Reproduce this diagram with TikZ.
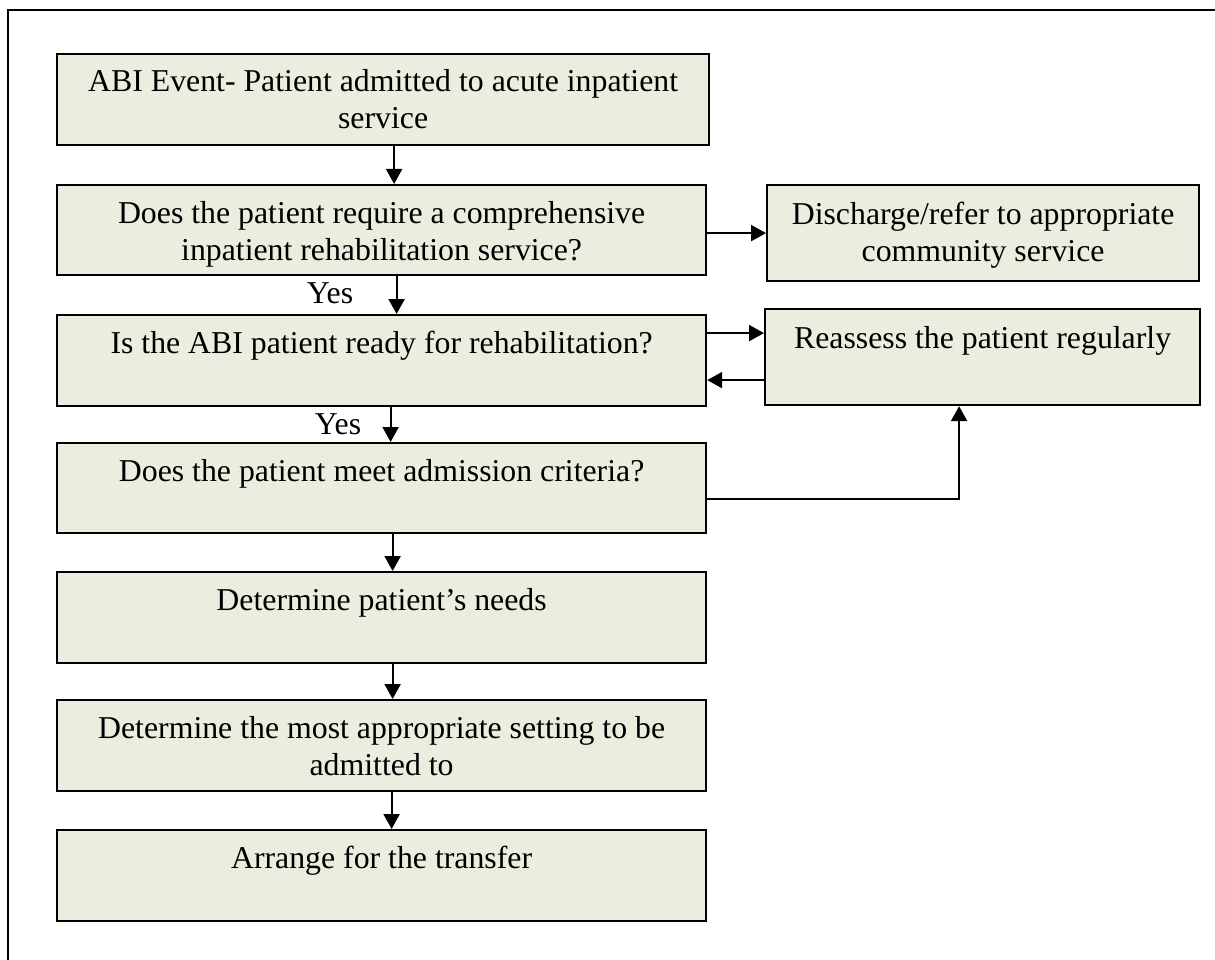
\documentclass[tikz,border=0pt]{standalone}
\usepackage{fontspec}
\setmainfont{Liberation Serif}
\usetikzlibrary{arrows.meta,calc}
\definecolor{boxfill}{RGB}{234,238,222}
\begin{document}
\begin{tikzpicture}[x=1pt,y=-1pt,
  box/.style={draw=black,line width=2.2pt,fill=boxfill,inner sep=0pt,anchor=north west},
  txt/.style={anchor=base,inner sep=0pt,font=\fontsize{31.8}{37}\selectfont},
  conn/.style={line width=2.2pt,-{Triangle[length=15pt,width=16pt]}},
  frame/.style={line width=2.2pt}]
\useasboundingbox (0,0) rectangle (1215,960);
% page frame (top and left edges)
\coordinate (fbl) at (8,960);
\coordinate (ftl) at (8,10);
\coordinate (ftr) at (1215,10);
\draw[frame] (fbl) -- (ftl) -- (ftr);

% main column
\node[box,minimum width=652pt,minimum height=91pt] (b1) at (56,53) {};
\node[box,minimum width=649pt,minimum height=90pt] (b2) at (56,184) {};
\node[box,minimum width=649pt,minimum height=91pt] (b3) at (56,314) {};
\node[box,minimum width=649pt,minimum height=90pt] (b4) at (56,442) {};
\node[box,minimum width=649pt,minimum height=91pt] (b5) at (56,571) {};
\node[box,minimum width=649pt,minimum height=91pt] (b6) at (56,699) {};
\node[box,minimum width=649pt,minimum height=91pt] (b7) at (56,829) {};
% side boxes
\node[box,minimum width=432pt,minimum height=96pt] (dis) at (766,184) {};
\node[box,minimum width=435pt,minimum height=96pt] (rea) at (764,308) {};

% box texts
\node[txt] (t1) at ($(b1.north)+(0,39)$) {\parbox[t]{640pt}{\centering ABI Event- Patient admitted to acute inpatient\\ service}};
\node[txt] (t2) at ($(b2.north)+(0,39)$) {\parbox[t]{640pt}{\centering Does the patient require a comprehensive\\ inpatient rehabilitation service?}};
\node[txt] (t3) at ($(b3.north)+(0,39)$) {Is the ABI patient ready for rehabilitation?};
\node[txt] (t4) at ($(b4.north)+(0,39)$) {Does the patient meet admission criteria?};
\node[txt] (t5) at ($(b5.north)+(0,39)$) {Determine patient’s needs};
\node[txt] (t6) at ($(b6.north)+(0,39)$) {\parbox[t]{640pt}{\centering Determine the most appropriate setting to be\\ admitted to}};
\node[txt] (t7) at ($(b7.north)+(0,39)$) {Arrange for the transfer};
\node[txt] (td) at ($(dis.north)+(0,40)$) {\parbox[t]{430pt}{\centering Discharge/refer to appropriate\\ community service}};
\node[txt] (tr) at ($(rea.north)+(0,40)$) {Reassess the patient regularly};

% yes labels
\node[txt] (y1) at (330,303) {Yes};
\node[txt] (y2) at (338,434) {Yes};

% connectors
\draw[conn] ([xshift=11pt]b1.south) -- ([xshift=11pt]b1.south |- b2.north);
\draw[conn] ([xshift=15pt]b2.south) -- ([xshift=15pt]b2.south |- b3.north);
\draw[conn] ([xshift=9pt]b3.south) -- ([xshift=9pt]b3.south |- b4.north);
\draw[conn] ([xshift=11pt]b4.south) -- ([xshift=11pt]b4.south |- b5.north);
\draw[conn] ([xshift=11pt]b5.south) -- ([xshift=11pt]b5.south |- b6.north);
\draw[conn] ([xshift=10pt]b6.south) -- ([xshift=10pt]b6.south |- b7.north);
\draw[conn] (dis.west -| b2.east) -- (dis.west);
\draw[conn] ([yshift=24pt]rea.west -| b3.east) -- ([yshift=24pt]rea.west);
\draw[conn] ([yshift=-23pt]rea.west) -- ([yshift=-23pt]rea.west -| b3.east);
\draw[conn] ([yshift=-11pt]b4.east) -| ([xshift=-23.5pt]rea.south);
\end{tikzpicture}
\end{document}
